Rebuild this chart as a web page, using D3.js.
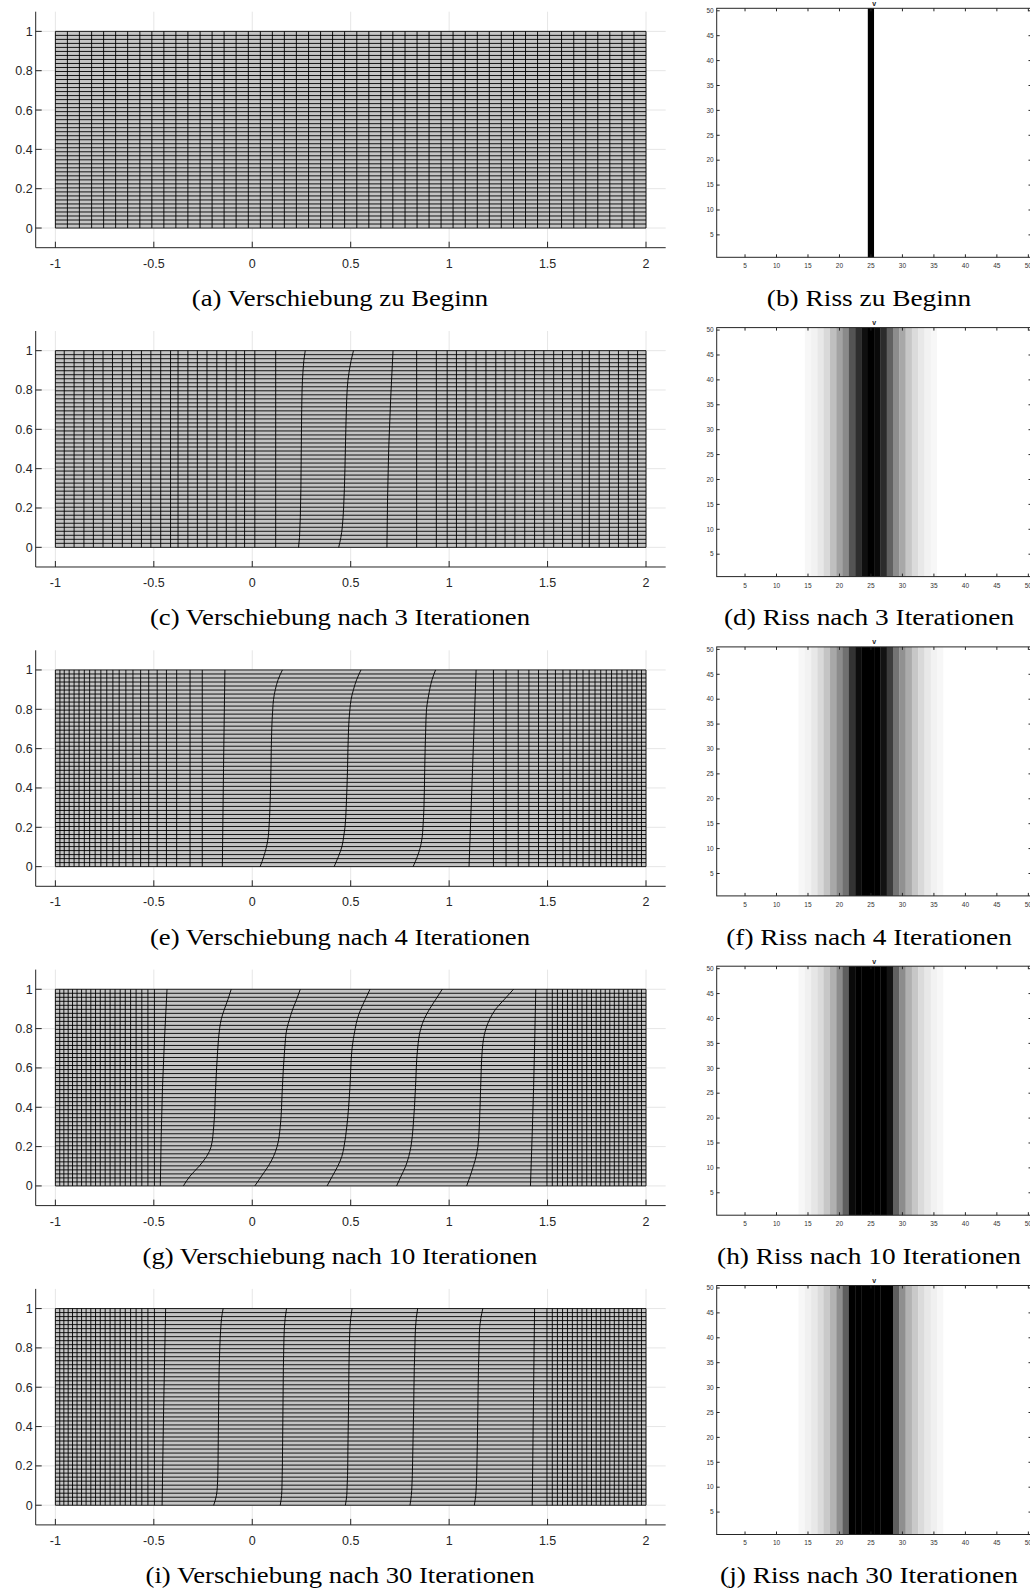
<!DOCTYPE html>
<html><head><meta charset="utf-8">
<script src="https://cdn.jsdelivr.net/npm/d3@7"></script>
<style>body{margin:0;background:#fff}svg{display:block}</style>
</head><body>
<script>
// ---------- tick labels ----------
const meshXTicks = [-1, -0.5, 0, 0.5, 1, 1.5, 2];
const meshYTicks = [0, 0.2, 0.4, 0.6, 0.8, 1];
const fieldTicks = [5, 10, 15, 20, 25, 30, 35, 40, 45, 50];

// ---------- mesh: 50 x 50 nodes on [-1,2] x [0,1] ----------
const meshRows = 50;
// y levels at which strongly curved columns are sampled
const curveY = [0, 0.05, 0.1, 0.15, 0.2, 0.3, 0.5, 0.7, 0.8, 0.85, 0.9, 0.95, 1];

// column positions: a number = straight column, [bottom, mid, top] = slightly bent,
// 13 values = curved column sampled at curveY
const colsStart = [-1, -0.939, -0.878, -0.816, -0.755, -0.694, -0.633, -0.571, -0.510, -0.449, -0.388,
  -0.327, -0.265, -0.204, -0.143, -0.082, -0.020, 0.041, 0.102, 0.163, 0.224, 0.286, 0.347, 0.408, 0.469,
  0.531, 0.592, 0.653, 0.714, 0.776, 0.837, 0.898, 0.959, 1.020, 1.082, 1.143, 1.204, 1.265, 1.327, 1.388,
  1.449, 1.510, 1.571, 1.633, 1.694, 1.755, 1.816, 1.878, 1.939, 2];

const colsIter3 = [-1, -0.955, -0.905, -0.855, -0.807, -0.758, -0.710, -0.660, -0.613, -0.563, -0.515,
  -0.465, -0.415, -0.377, -0.327, -0.279, -0.230, -0.180, -0.132, -0.082, -0.039, 0.013, 0.119,
  [0.235, 0.240, 0.242, 0.244, 0.245, 0.247, 0.249, 0.251, 0.253, 0.255, 0.258, 0.262, 0.269],
  [0.439, 0.450, 0.457, 0.461, 0.464, 0.468, 0.473, 0.478, 0.482, 0.486, 0.493, 0.502, 0.514],
  [0.684, 0.693, 0.715],
  0.835, 0.935, 0.990, 1.037, 1.085, 1.137, 1.187, 1.237, 1.284, 1.334, 1.384, 1.434, 1.481, 1.531,
  1.576, 1.626, 1.676, 1.712, 1.762, 1.814, 1.860, 1.910, 1.957, 2];

const colsIter4 = [-1, -0.977, -0.955, -0.930, -0.905, -0.880, -0.853, -0.826, -0.798, -0.769, -0.739,
  -0.708, -0.676, -0.642, -0.606, -0.567, -0.526, -0.483, -0.436, -0.384, -0.316, -0.254,
  [-0.152, -0.146, -0.139],
  [0.040, 0.058, 0.072, 0.081, 0.085, 0.090, 0.095, 0.099, 0.104, 0.108, 0.117, 0.131, 0.153],
  [0.416, 0.437, 0.455, 0.464, 0.471, 0.477, 0.484, 0.489, 0.496, 0.502, 0.514, 0.530, 0.552],
  [0.817, 0.838, 0.854, 0.863, 0.867, 0.872, 0.876, 0.881, 0.885, 0.892, 0.901, 0.913, 0.931],
  [1.101, 1.119, 1.137],
  1.225, 1.289, 1.351, 1.405, 1.454, 1.499, 1.540, 1.578, 1.614, 1.648, 1.680, 1.711, 1.741, 1.770,
  1.798, 1.825, 1.852, 1.878, 1.904, 1.929, 1.953, 1.977, 2];

const colsIter10 = [-1, -0.978, -0.957, -0.935, -0.913, -0.890, -0.867, -0.844, -0.820, -0.796, -0.772,
  -0.747, -0.722, -0.697, -0.671, -0.645, -0.618, -0.590, -0.561, -0.530, -0.497,
  [-0.467, -0.456, -0.433],
  [-0.350, -0.316, -0.270, -0.232, -0.209, -0.196, -0.186, -0.175, -0.166, -0.157, -0.141, -0.123, -0.107],
  [0.013, 0.047, 0.081, 0.108, 0.126, 0.142, 0.153, 0.165, 0.176, 0.190, 0.206, 0.226, 0.244],
  [0.380, 0.407, 0.434, 0.455, 0.466, 0.480, 0.496, 0.507, 0.523, 0.534, 0.552, 0.575, 0.598],
  [0.733, 0.756, 0.779, 0.795, 0.806, 0.817, 0.829, 0.840, 0.856, 0.874, 0.901, 0.933, 0.965],
  [1.089, 1.107, 1.123, 1.137, 1.146, 1.153, 1.160, 1.169, 1.187, 1.207, 1.237, 1.282, 1.327],
  [1.413, 1.429, 1.440],
  1.497, 1.524, 1.550, 1.576, 1.601, 1.626, 1.651, 1.675, 1.699, 1.723, 1.747, 1.770, 1.793, 1.816,
  1.839, 1.862, 1.885, 1.908, 1.931, 1.954, 1.977, 2];

const colsIter30 = [-1, -0.978, -0.957, -0.935, -0.913, -0.890, -0.867, -0.844, -0.820, -0.796, -0.772,
  -0.747, -0.722, -0.697, -0.671, -0.645, -0.618, -0.590, -0.561, -0.530, -0.497,
  [-0.458, -0.450, -0.440],
  [-0.196, -0.182, -0.177, -0.175, -0.174, -0.173, -0.171, -0.168, -0.165, -0.163, -0.160, -0.156, -0.148],
  [0.142, 0.149, 0.151, 0.152, 0.153, 0.154, 0.156, 0.158, 0.160, 0.161, 0.163, 0.167, 0.174],
  [0.473, 0.480, 0.482, 0.484, 0.485, 0.486, 0.489, 0.491, 0.493, 0.494, 0.496, 0.500, 0.507],
  [0.801, 0.808, 0.811, 0.813, 0.814, 0.816, 0.820, 0.823, 0.826, 0.827, 0.829, 0.833, 0.840],
  [1.128, 1.135, 1.138, 1.140, 1.141, 1.143, 1.146, 1.149, 1.152, 1.153, 1.155, 1.161, 1.171],
  [1.422, 1.428, 1.434],
  1.497, 1.524, 1.550, 1.576, 1.601, 1.626, 1.651, 1.675, 1.699, 1.723, 1.747, 1.770, 1.793, 1.816,
  1.839, 1.862, 1.885, 1.908, 1.931, 1.954, 1.977, 2];

// ---------- crack field v, one value per image column (1..50) ----------
const ones = n => Array(n).fill(1);
const vStart = [...ones(24), 0, ...ones(25)];
const vIter3 = [...ones(14), 0.97, 0.95, 0.91, 0.85, 0.75, 0.64, 0.54, 0.33, 0.18, 0.06, 0.00,
  0.04, 0.17, 0.38, 0.55, 0.66, 0.78, 0.86, 0.91, 0.95, 0.97, ...ones(15)];
const vIter4 = [...ones(13), 0.97, 0.95, 0.91, 0.85, 0.77, 0.66, 0.55, 0.44, 0.20, 0.05, 0.00, 0.00,
  0.00, 0.07, 0.24, 0.45, 0.57, 0.67, 0.78, 0.85, 0.91, 0.95, 0.97, ...ones(14)];
const vIter10 = [...ones(13), 0.97, 0.94, 0.90, 0.86, 0.78, 0.69, 0.55, 0.37, 0.04, 0.00, 0.00, 0.00,
  0.00, 0.00, 0.08, 0.38, 0.55, 0.69, 0.78, 0.86, 0.91, 0.95, 0.97, ...ones(14)];
const vIter30 = [...ones(13), 0.97, 0.94, 0.91, 0.86, 0.79, 0.70, 0.56, 0.37, 0.00, 0.00, 0.00, 0.00,
  0.00, 0.00, 0.00, 0.37, 0.56, 0.70, 0.79, 0.86, 0.91, 0.94, 0.97, ...ones(14)];

const rowsData = [
  {mesh: colsStart,  v: vStart,  capL: "(a) Verschiebung zu Beginn",          capR: "(b) Riss zu Beginn"},
  {mesh: colsIter3,  v: vIter3,  capL: "(c) Verschiebung nach 3 Iterationen", capR: "(d) Riss nach 3 Iterationen"},
  {mesh: colsIter4,  v: vIter4,  capL: "(e) Verschiebung nach 4 Iterationen", capR: "(f) Riss nach 4 Iterationen"},
  {mesh: colsIter10, v: vIter10, capL: "(g) Verschiebung nach 10 Iterationen", capR: "(h) Riss nach 10 Iterationen"},
  {mesh: colsIter30, v: vIter30, capL: "(i) Verschiebung nach 30 Iterationen", capR: "(j) Riss nach 30 Iterationen"}
];

// ---------- layout ----------
const W = 1030, H = 1591, ROW = 319.3;
const axColor = "#262626";
const sans = "'Liberation Sans', Arial, Helvetica, sans-serif";
const serif = "'Liberation Serif', 'Times New Roman', serif";
const svg = d3.select("body").append("svg").attr("width", W).attr("height", H);

const xL = d3.scaleLinear([-1.1, 2.1], [35.7, 665.7]);
const yL = d3.scaleLinear([-0.1, 1.1], [247.7, 11.7]);
const xR = d3.scaleLinear([0.5, 50.5], [716.7, 1031.5]);
const yR = d3.scaleLinear([0.5, 50.5], [257.3, 8.3]);
const meshY = d3.range(meshRows).map(i => i / (meshRows - 1));

const colLine = d3.line().x(d => xL(d[0])).y(d => yL(d[1])).curve(d3.curveMonotoneY);
function colPoints(c) {
  if (typeof c === "number") return [[c, 0], [c, 1]];
  if (c.length === 3) return [[c[0], 0], [c[1], 0.5], [c[2], 1]];
  return c.map((x, i) => [x, curveY[i]]);
}

rowsData.forEach((rd, k) => {
  const g = svg.append("g").attr("transform", `translate(0,${k * ROW})`);

  // ----- displacement mesh -----
  const gl = g.append("g");
  gl.append("g").selectAll("line").data(meshXTicks).join("line")
    .attr("x1", d => xL(d)).attr("x2", d => xL(d)).attr("y1", yL(1.1)).attr("y2", yL(-0.1))
    .attr("stroke", "#e6e6e6").attr("stroke-width", 1);
  gl.append("g").selectAll("line").data(meshYTicks).join("line")
    .attr("y1", d => yL(d)).attr("y2", d => yL(d)).attr("x1", xL(-1.1)).attr("x2", xL(2.1))
    .attr("stroke", "#e6e6e6").attr("stroke-width", 1);
  gl.append("rect").attr("x", xL(-1)).attr("y", yL(1)).attr("width", xL(2) - xL(-1))
    .attr("height", yL(0) - yL(1)).attr("fill", "#c4c4c4");
  gl.append("g").selectAll("line").data(meshY).join("line")
    .attr("x1", xL(-1)).attr("x2", xL(2)).attr("y1", d => yL(d)).attr("y2", d => yL(d))
    .attr("stroke", "#000").attr("stroke-width", 0.9);
  gl.append("g").selectAll("path").data(rd.mesh).join("path")
    .attr("d", d => colLine(colPoints(d))).attr("fill", "none")
    .attr("stroke", "#000").attr("stroke-width", 0.9);
  const ax = gl.append("g").attr("stroke", axColor).attr("stroke-width", 1);
  ax.append("line").attr("x1", xL(-1.1)).attr("x2", xL(-1.1)).attr("y1", yL(1.1)).attr("y2", yL(-0.1));
  ax.append("line").attr("x1", xL(-1.1)).attr("x2", xL(2.1)).attr("y1", yL(-0.1)).attr("y2", yL(-0.1));
  ax.selectAll(".tx").data(meshXTicks).join("line").attr("class", "tx")
    .attr("x1", d => xL(d)).attr("x2", d => xL(d)).attr("y1", yL(-0.1)).attr("y2", yL(-0.1) - 6);
  ax.selectAll(".ty").data(meshYTicks).join("line").attr("class", "ty")
    .attr("y1", d => yL(d)).attr("y2", d => yL(d)).attr("x1", xL(-1.1)).attr("x2", xL(-1.1) + 6);
  gl.append("g").selectAll("text").data(meshXTicks).join("text")
    .attr("x", d => xL(d)).attr("y", yL(-0.1) + 20).attr("text-anchor", "middle")
    .attr("font-family", sans).attr("font-size", 12.5).attr("fill", axColor).text(d => d);
  gl.append("g").selectAll("text").data(meshYTicks).join("text")
    .attr("x", xL(-1.1) - 3).attr("y", d => yL(d) + 4.5).attr("text-anchor", "end")
    .attr("font-family", sans).attr("font-size", 12.5).attr("fill", axColor).text(d => d);

  // ----- crack field image -----
  const gr = g.append("g");
  gr.append("g").selectAll("rect").data(rd.v).join("rect")
    .attr("x", (d, i) => xR(i + 0.5)).attr("width", xR(1.5) - xR(0.5) + 0.3)
    .attr("y", yR(50.5)).attr("height", yR(0.5) - yR(50.5))
    .attr("fill", d => d3.rgb(d * 255, d * 255, d * 255));
  const bx = gr.append("g").attr("stroke", axColor).attr("stroke-width", 1).attr("fill", "none");
  bx.append("rect").attr("x", xR(0.5)).attr("y", yR(50.5))
    .attr("width", xR(50.5) - xR(0.5)).attr("height", yR(0.5) - yR(50.5));
  bx.selectAll(".bt").data(fieldTicks).join("line").attr("class", "bt")
    .attr("x1", d => xR(d)).attr("x2", d => xR(d)).attr("y1", yR(0.5)).attr("y2", yR(0.5) - 3);
  bx.selectAll(".tt").data(fieldTicks).join("line").attr("class", "tt")
    .attr("x1", d => xR(d)).attr("x2", d => xR(d)).attr("y1", yR(50.5)).attr("y2", yR(50.5) + 3);
  bx.selectAll(".lt").data(fieldTicks).join("line").attr("class", "lt")
    .attr("y1", d => yR(d)).attr("y2", d => yR(d)).attr("x1", xR(0.5)).attr("x2", xR(0.5) + 3);
  bx.selectAll(".rt").data(fieldTicks).join("line").attr("class", "rt")
    .attr("y1", d => yR(d)).attr("y2", d => yR(d)).attr("x1", xR(50.5)).attr("x2", xR(50.5) - 3);
  gr.append("g").selectAll("text").data(fieldTicks).join("text")
    .attr("x", d => xR(d)).attr("y", yR(0.5) + 11).attr("text-anchor", "middle")
    .attr("font-family", sans).attr("font-size", 6.5).attr("fill", "#333").text(d => d);
  gr.append("g").selectAll("text").data(fieldTicks).join("text")
    .attr("x", xR(0.5) - 3).attr("y", d => yR(d) + 2.3).attr("text-anchor", "end")
    .attr("font-family", sans).attr("font-size", 6.5).attr("fill", "#333").text(d => d);
  gr.append("text").attr("x", (xR(0.5) + xR(50.5)) / 2).attr("y", yR(50.5) - 2.5)
    .attr("text-anchor", "middle").attr("font-family", sans)
    .attr("font-size", 7).attr("font-weight", "bold").attr("fill", "#222").text("v");

  // ----- captions -----
  [[rd.capL, 340, 1.16], [rd.capR, 869, 1.19]].forEach(([t, cx, sx]) => {
    g.append("text").attr("transform", `translate(${cx},306) scale(${sx},1)`)
      .attr("text-anchor", "middle").attr("font-family", serif)
      .attr("font-size", 23).attr("fill", "#000").text(t);
  });
});
</script>
</body></html>
